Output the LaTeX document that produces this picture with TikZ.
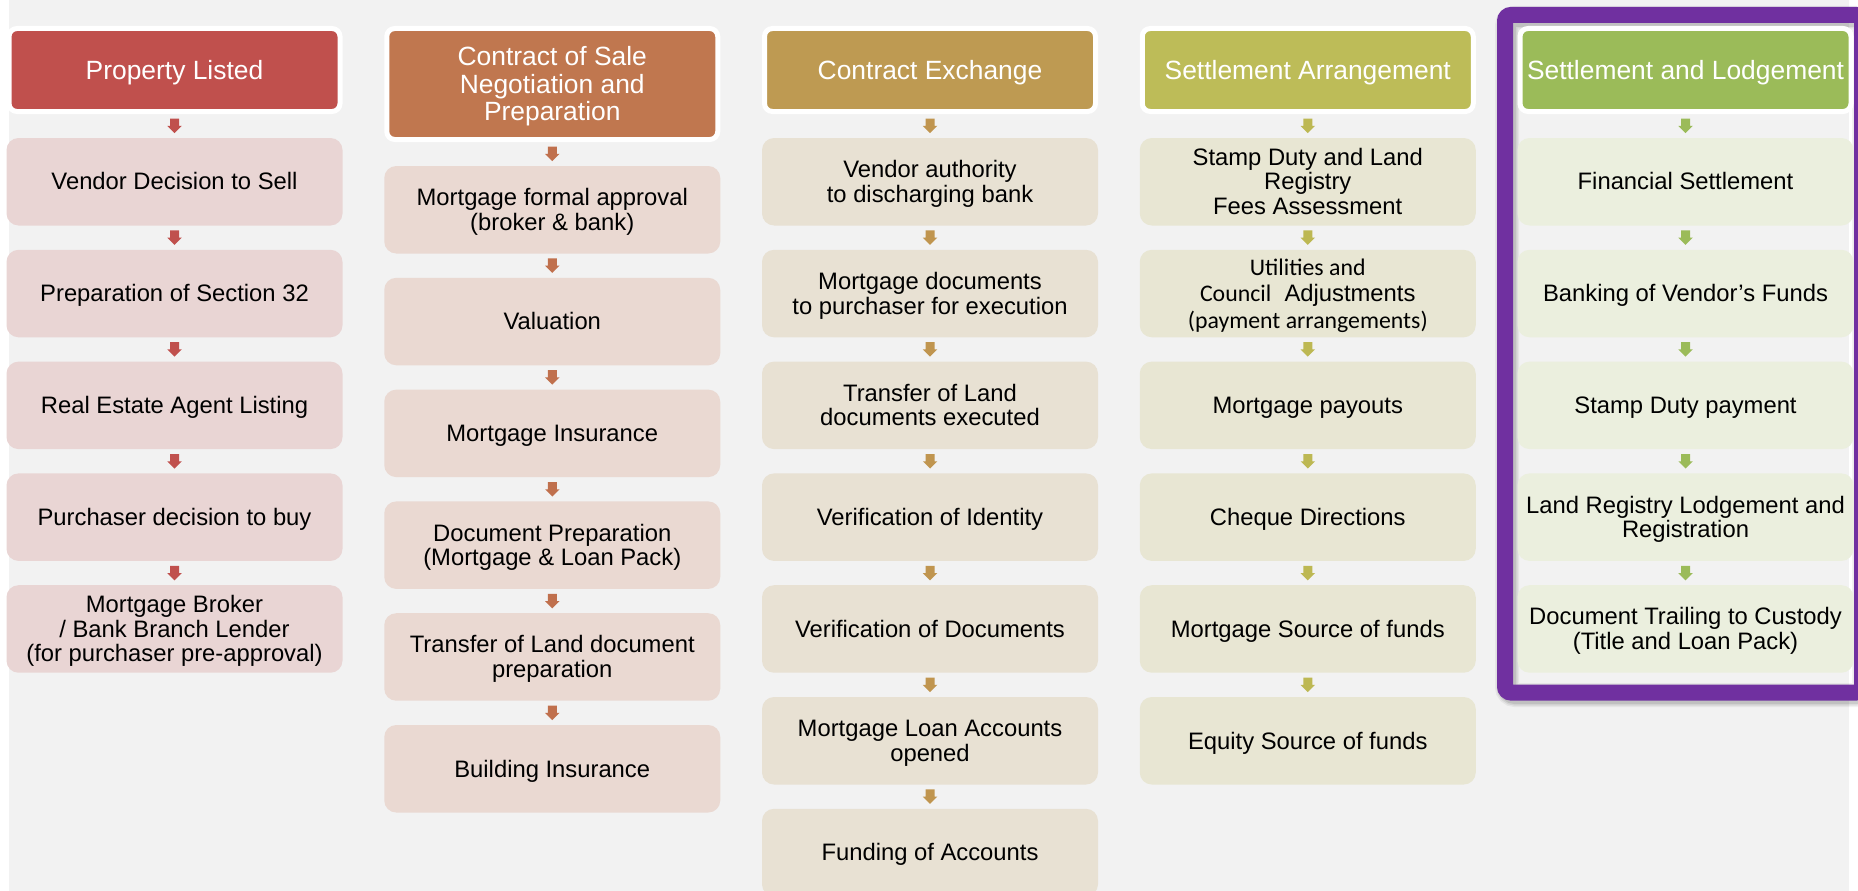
\documentclass[tikz,border=0pt]{standalone}
\usepackage{fontspec}
\setmainfont{Liberation Sans}
\newfontfamily\calfont{Carlito}
\usetikzlibrary{calc}
\definecolor{bg}{HTML}{F2F2F2}
\definecolor{hA}{HTML}{C0504D}\definecolor{bA}{HTML}{E9D5D4}\definecolor{rA}{HTML}{C0504D}
\definecolor{hB}{HTML}{C0774F}\definecolor{bB}{HTML}{EAD9D2}\definecolor{rB}{HTML}{C0704D}
\definecolor{hC}{HTML}{BE9A52}\definecolor{bC}{HTML}{E8E1D3}\definecolor{rC}{HTML}{C0954F}
\definecolor{hD}{HTML}{BDBC58}\definecolor{bD}{HTML}{E8E6D3}\definecolor{rD}{HTML}{BDB853}
\definecolor{hE}{HTML}{9BBB59}\definecolor{bE}{HTML}{EBEFDE}\definecolor{rE}{HTML}{9BBB59}
\definecolor{frame}{HTML}{7030A0}
\newcommand\mystrut{\vrule height 0.905em depth 0.212em width 0pt\relax}
\newcommand\hdrfont{\fontsize{26.4}{27.5}\selectfont}
\newcommand\bodyfont{\fontsize{23.8}{24.5}\selectfont}
\newcommand\utilfont{\fontsize{23.8}{26.3}\selectfont}
\newcommand\blockarrow[3]{%
  \fill[#3] ($(#1.south)!0.5!(#2.north)$) +(-4.5,-7.25) -- +(4.5,-7.25) -- +(4.5,0) -- +(7.25,0) -- +(0,7.25) -- +(-7.25,0) -- +(-4.5,0) -- cycle;}
\tikzset{
  hdr/.style={fill=#1, draw=white, line width=5pt, rounded corners=8pt,
    minimum width=331pt, minimum height=83pt, inner sep=0pt, text=white, align=center,
    font=\hdrfont},
  stepbox/.style={fill=#1, draw=none, rounded corners=12pt,
    minimum width=336pt, minimum height=87.5pt, inner sep=0pt, text=black, align=center,
    font=\bodyfont}
}
\begin{document}
\lineskiplimit=-100pt
\begin{tikzpicture}[x=1pt,y=-1pt]
\useasboundingbox (0,0) rectangle (1858,891);
\fill[white] (0,0) rectangle (1858,891);
\fill[bg] (9,0) rectangle (1849,891);
% frame shadow
\foreach \w/\o in {24/0.05,21/0.07,18/0.09}
  \draw[black,opacity=\o,line width=\w pt,rounded corners=8pt] (1507,18) rectangle (1864,695);

% Column 1
\node[hdr=hA] (h1) at (174.5,70) {\mystrut Property Listed\mystrut};
\node[stepbox=bA] (a1) at (174.5,181.75) {\mystrut Vendor Decision to Sell\mystrut};
\node[stepbox=bA] (a2) at (174.5,293.55) {\mystrut Preparation of Section 32\mystrut};
\node[stepbox=bA] (a3) at (174.5,405.35) {\mystrut Real Estate Agent Listing\mystrut};
\node[stepbox=bA] (a4) at (174.5,517.15) {\mystrut Purchaser decision to buy\mystrut};
\node[stepbox=bA] (a5) at (174.5,628.95) {\mystrut Mortgage Broker\\/ Bank Branch Lender\\(for purchaser pre-approval)\mystrut};

% Column 2
\node[hdr=hB, minimum height=111pt] (h2) at (552.25,84) {\mystrut Contract of Sale\\Negotiation and\\Preparation\mystrut};
\node[stepbox=bB] (b1) at (552.25,209.75) {\mystrut Mortgage formal approval\\(broker \& bank)\mystrut};
\node[stepbox=bB] (b2) at (552.25,321.55) {\mystrut Valuation\mystrut};
\node[stepbox=bB] (b3) at (552.25,433.35) {\mystrut Mortgage Insurance\mystrut};
\node[stepbox=bB] (b4) at (552.25,545.15) {\mystrut Document Preparation\\(Mortgage \& Loan Pack)\mystrut};
\node[stepbox=bB] (b5) at (552.25,656.95) {\mystrut Transfer of Land document\\preparation\mystrut};
\node[stepbox=bB] (b6) at (552.25,768.75) {\mystrut Building Insurance\mystrut};

% Column 3
\node[hdr=hC] (h3) at (930,70) {\mystrut Contract Exchange\mystrut};
\node[stepbox=bC] (c1) at (930,181.75) {\mystrut Vendor authority\\to discharging bank\mystrut};
\node[stepbox=bC] (c2) at (930,293.55) {\mystrut Mortgage documents\\to purchaser for execution\mystrut};
\node[stepbox=bC] (c3) at (930,405.35) {\mystrut Transfer of Land\\documents executed\mystrut};
\node[stepbox=bC] (c4) at (930,517.15) {\mystrut Verification of Identity\mystrut};
\node[stepbox=bC] (c5) at (930,628.95) {\mystrut Verification of Documents\mystrut};
\node[stepbox=bC] (c6) at (930,740.75) {\mystrut Mortgage Loan Accounts\\opened\mystrut};
\node[stepbox=bC] (c7) at (930,852.55) {\mystrut Funding of Accounts\mystrut};

% Column 4
\node[hdr=hD] (h4) at (1307.75,70) {\mystrut Settlement Arrangement\mystrut};
\node[stepbox=bD] (d1) at (1307.75,181.75) {\mystrut Stamp Duty and Land\\Registry\\Fees Assessment\mystrut};
\node[stepbox=bD, font=\utilfont] (d2) at (1307.75,293.55)
  {\mystrut{\calfont Utilities and}\\{\calfont Council}\ \ Adjustments\\{\calfont (payment arrangements)}\mystrut};
\node[stepbox=bD] (d3) at (1307.75,405.35) {\mystrut Mortgage payouts\mystrut};
\node[stepbox=bD] (d4) at (1307.75,517.15) {\mystrut Cheque Directions\mystrut};
\node[stepbox=bD] (d5) at (1307.75,628.95) {\mystrut Mortgage Source of funds\mystrut};
\node[stepbox=bD] (d6) at (1307.75,740.75) {\mystrut Equity Source of funds\mystrut};

% Column 5
\node[hdr=hE] (h5) at (1685.5,70) {\mystrut Settlement and Lodgement\mystrut};
\node[stepbox=bE] (e1) at (1685.5,181.75) {\mystrut Financial Settlement\mystrut};
\node[stepbox=bE] (e2) at (1685.5,293.55) {\mystrut Banking of Vendor’s Funds\mystrut};
\node[stepbox=bE] (e3) at (1685.5,405.35) {\mystrut Stamp Duty payment\mystrut};
\node[stepbox=bE] (e4) at (1685.5,517.15) {\mystrut Land Registry Lodgement and\\Registration\mystrut};
\node[stepbox=bE] (e5) at (1685.5,628.95) {\mystrut Document Trailing to Custody\\(Title and Loan Pack)\mystrut};

% Arrows
\foreach \p/\q/\c in {h1/a1/rA,a1/a2/rA,a2/a3/rA,a3/a4/rA,a4/a5/rA,
  h2/b1/rB,b1/b2/rB,b2/b3/rB,b3/b4/rB,b4/b5/rB,b5/b6/rB,
  h3/c1/rC,c1/c2/rC,c2/c3/rC,c3/c4/rC,c4/c5/rC,c5/c6/rC,c6/c7/rC,
  h4/d1/rD,d1/d2/rD,d2/d3/rD,d3/d4/rD,d4/d5/rD,d5/d6/rD,
  h5/e1/rE,e1/e2/rE,e2/e3/rE,e3/e4/rE,e4/e5/rE}
  {\blockarrow{\p}{\q}{\c}}

% Highlight frame
\draw[frame,line width=16pt,rounded corners=6pt] (1505,15) rectangle (1862,692.5);
\end{tikzpicture}
\end{document}
